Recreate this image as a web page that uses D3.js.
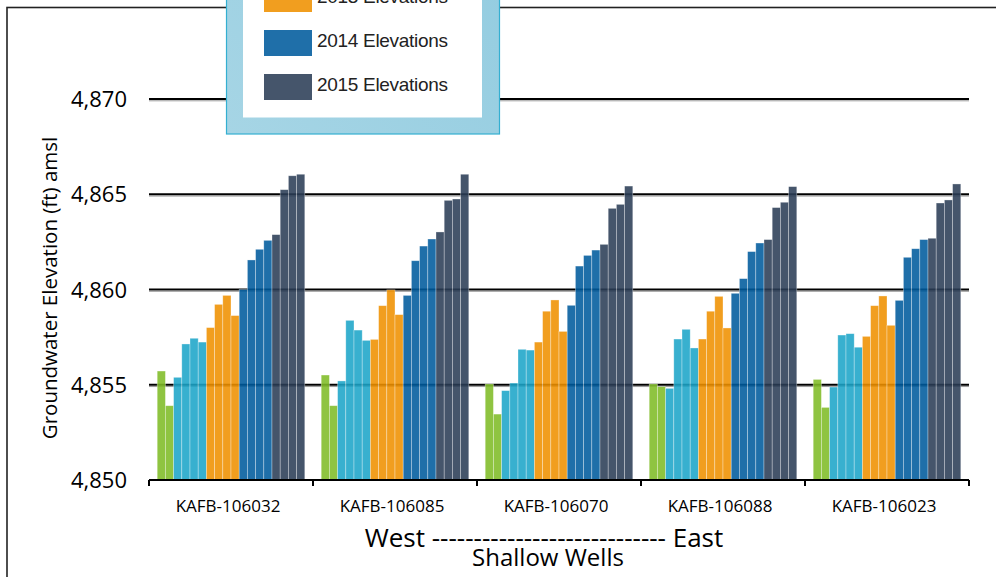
<!DOCTYPE html>
<html>
<head>
<meta charset="utf-8">
<script src="https://cdn.jsdelivr.net/npm/d3@7"></script>
<style>
  body { margin: 0; background: #fff; }
  svg { display: block; }
  .tick-label { font-family: "Open Sans", sans-serif; fill: #000; }
</style>
</head>
<body>
<svg id="chart"></svg>
<script>

// wells from west to east
var wells = ["KAFB-106032", "KAFB-106085", "KAFB-106070", "KAFB-106088", "KAFB-106023"];

// legend labels, one per survey year
var years = ["2011 Elevations", "2012 Elevations", "2013 Elevations", "2014 Elevations", "2015 Elevations"];

// readings per well (ft amsl)
var elev2011 = [
  [4855.72, 4853.90],
  [4855.51, 4853.90],
  [4855.04, 4853.46],
  [4855.04, 4854.90],
  [4855.28, 4853.81]
];
var elev2012 = [
  [4855.39, 4857.14, 4857.44, 4857.24],
  [4855.20, 4858.38, 4857.87, 4857.33],
  [4854.69, 4855.09, 4856.86, 4856.82],
  [4854.81, 4857.40, 4857.91, 4856.93],
  [4854.88, 4857.61, 4857.68, 4856.97]
];
var elev2013 = [
  [4858.00, 4859.22, 4859.69, 4858.63],
  [4857.38, 4859.15, 4859.98, 4858.68],
  [4857.24, 4858.86, 4859.45, 4857.80],
  [4857.40, 4858.86, 4859.64, 4857.98],
  [4857.54, 4859.15, 4859.66, 4858.12]
];
var elev2014 = [
  [4860.00, 4861.55, 4862.11, 4862.58],
  [4859.69, 4861.51, 4862.28, 4862.65],
  [4859.17, 4861.23, 4861.79, 4862.07],
  [4859.80, 4860.57, 4861.99, 4862.44],
  [4859.43, 4861.69, 4862.14, 4862.62]
];
var elev2015 = [
  [4862.88, 4865.24, 4865.97, 4866.05],
  [4863.02, 4864.68, 4864.75, 4866.05],
  [4862.37, 4864.26, 4864.47, 4865.43],
  [4862.62, 4864.30, 4864.58, 4865.40],
  [4862.69, 4864.54, 4864.70, 4865.54]
];

var yTicks = [4850, 4855, 4860, 4865, 4870];

// fill colours (drawn a little transparent so gridlines show through)
var colors = ["#80bc27", "#1da5c8", "#ef9100", "#005b9d", "#2b3d56"];

var config = {
  w: 996,
  h: 577,
  left: 149,
  right: 969,
  top: 99,
  bottom: 480
};

var svg = d3.select("#chart")
  .attr("width", config.w)
  .attr("height", config.h);

// outer chart frame (runs off the page on the right and bottom)
svg.append("rect")
  .attr("x", 7)
  .attr("y", 7.5)
  .attr("width", 1100)
  .attr("height", 700)
  .attr("fill", "none")
  .attr("stroke", "#222")
  .attr("stroke-width", 1.6);

var x = d3.scaleBand()
  .domain(wells)
  .range([config.left, config.right]);

var y = d3.scaleLinear()
  .domain([4850, 4870])
  .range([config.bottom, config.top]);

// flatten the series into one list of bars
var series = [elev2011, elev2012, elev2013, elev2014, elev2015];
var bars = [];
wells.forEach(function(well, i) {
  var slot = 0;
  series.forEach(function(s, k) {
    s[i].forEach(function(v) {
      bars.push({ well: well, series: k, slot: slot, value: v });
      slot += 1;
    });
  });
});

var slots = d3.range(d3.max(bars, function(d) { return d.slot; }) + 1);
var xSlot = d3.scaleBand()
  .domain(slots)
  .range([0, x.bandwidth()])
  .paddingOuter(1);

// gridlines with a soft shadow
var grid = svg.append("g").attr("class", "grid");
grid.selectAll("line.shadow")
  .data(yTicks.slice(1))
  .enter()
  .append("line")
    .attr("class", "shadow")
    .attr("x1", config.left)
    .attr("x2", config.right)
    .attr("y1", function(d) { return y(d) + 1.8; })
    .attr("y2", function(d) { return y(d) + 1.8; })
    .attr("stroke", "#9a9a9a")
    .attr("stroke-width", 1);
grid.selectAll("line.major")
  .data(yTicks.slice(1))
  .enter()
  .append("line")
    .attr("class", "major")
    .attr("x1", config.left)
    .attr("x2", config.right)
    .attr("y1", function(d) { return y(d); })
    .attr("y2", function(d) { return y(d); })
    .attr("stroke", "#000")
    .attr("stroke-width", 2);

// bars
svg.append("g")
  .selectAll("rect")
  .data(bars)
  .enter()
  .append("rect")
    .attr("x", function(d) { return x(d.well) + xSlot(d.slot); })
    .attr("y", function(d) { return y(d.value); })
    .attr("width", xSlot.bandwidth())
    .attr("height", function(d) { return y(4850) - y(d.value); })
    .attr("fill", function(d) { return colors[d.series]; })
    .attr("fill-opacity", 0.88)
    .attr("stroke", "rgba(255,255,255,0.45)")
    .attr("stroke-width", 0.7);

// x axis
var xAxis = d3.axisBottom(x).tickSize(0).tickFormat("");
var gx = svg.append("g")
  .attr("transform", "translate(0," + config.bottom + ")")
  .call(xAxis);
gx.select(".domain").remove();
gx.append("line")
  .attr("x1", config.left)
  .attr("x2", config.right)
  .attr("stroke", "#000")
  .attr("stroke-width", 2);
gx.selectAll("line.sep")
  .data(wells.concat(["end"]))
  .enter()
  .append("line")
    .attr("class", "sep")
    .attr("x1", function(d, i) { return config.left + i * x.step(); })
    .attr("x2", function(d, i) { return config.left + i * x.step(); })
    .attr("y1", 0)
    .attr("y2", 6)
    .attr("stroke", "#000")
    .attr("stroke-width", 2);
gx.selectAll("text.well")
  .data(wells)
  .enter()
  .append("text")
    .attr("class", "tick-label")
    .attr("x", function(d) { return x(d) + x.bandwidth() / 2 - 3; })
    .attr("y", 32)
    .attr("text-anchor", "middle")
    .style("font-size", "17px")
    .text(function(d) { return d; });

// y axis labels
var yAxis = d3.axisLeft(y)
  .tickValues(yTicks)
  .tickSize(0)
  .tickPadding(22)
  .tickFormat(d3.format(","));
var gy = svg.append("g")
  .attr("transform", "translate(" + config.left + ",0)")
  .call(yAxis);
gy.select(".domain").remove();
gy.selectAll("text")
  .attr("class", "tick-label")
  .style("font-size", "22px")
  .attr("dy", "0.35em");

// axis titles
svg.append("text")
  .attr("transform", "translate(57,288) rotate(-90)")
  .attr("text-anchor", "middle")
  .style("font-family", "Open Sans, sans-serif")
  .style("font-size", "20.5px")
  .text("Groundwater Elevation (ft) amsl");

svg.append("text")
  .attr("x", 544)
  .attr("y", 547)
  .attr("text-anchor", "middle")
  .style("font-family", "Open Sans, sans-serif")
  .style("font-size", "26px")
  .text("West ---------------------------- East");

svg.append("text")
  .attr("x", 548)
  .attr("y", 566)
  .attr("text-anchor", "middle")
  .style("font-family", "Open Sans, sans-serif")
  .style("font-size", "24px")
  .text("Shallow Wells");

// legend box, top part sits above the page
var legend = svg.append("g").attr("class", "legend");
var lgGrad = svg.append("defs").append("linearGradient")
  .attr("id", "lgGrad")
  .attr("x1", "0").attr("y1", "1").attr("x2", "1").attr("y2", "0");
lgGrad.append("stop").attr("offset", "0").attr("stop-color", "#a6d5e5");
lgGrad.append("stop").attr("offset", "1").attr("stop-color", "#8ecadf");

legend.append("rect")
  .attr("x", 226.5)
  .attr("y", -200)
  .attr("width", 273)
  .attr("height", 334)
  .attr("fill", "url(#lgGrad)")
  .attr("stroke", "#34afd1")
  .attr("stroke-width", 1.2);
legend.append("rect")
  .attr("x", 243)
  .attr("y", -200)
  .attr("width", 239)
  .attr("height", 317.5)
  .attr("fill", "#fff");

var item = legend.selectAll("g.item")
  .data(years)
  .enter()
  .append("g")
    .attr("class", "item")
    .attr("transform", function(d, i) { return "translate(264," + (84 - (years.length - 1 - i) * 44) + ")"; });
item.append("rect")
  .attr("x", 0)
  .attr("y", -10)
  .attr("width", 48)
  .attr("height", 26)
  .attr("fill", function(d, i) { return colors[i]; })
  .attr("fill-opacity", 0.88);
item.append("text")
  .attr("x", 53)
  .attr("y", 0)
  .attr("dy", "0.35em")
  .style("font-family", "Liberation Sans, Arial, sans-serif")
  .style("font-size", "19px")
  .style("letter-spacing", "-0.3px")
  .attr("fill", "#222")
  .text(function(d) { return d; });

</script>
</body>
</html>
